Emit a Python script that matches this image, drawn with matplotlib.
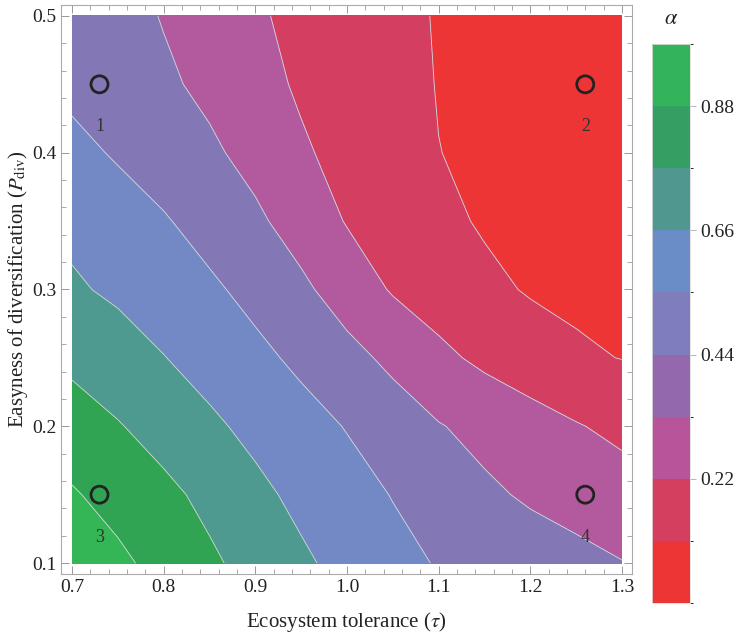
import numpy as np
import matplotlib
matplotlib.use("Agg")
import matplotlib.pyplot as plt
from matplotlib.colors import ListedColormap, BoundaryNorm
from matplotlib.cm import ScalarMappable
from matplotlib.ticker import MultipleLocator, FormatStrFormatter

plt.rcParams['font.family'] = ['Liberation Serif', 'DejaVu Serif']
plt.rcParams['mathtext.fontset'] = 'stix'

# ── Data ─────────────────────────────────────────────────────────
tau = [0.70, 0.75, 0.80, 0.85, 0.90, 0.95, 1.00, 1.05, 1.10, 1.15, 1.20, 1.25, 1.30]
p_div = [0.10, 0.15, 0.20, 0.25, 0.30, 0.35, 0.40, 0.45, 0.50]

# alpha, one row per p_div value (bottom to top)
alpha = [
    [0.846, 0.792, 0.735, 0.678, 0.622, 0.567, 0.518, 0.472, 0.433, 0.408, 0.383, 0.358, 0.333],
    [0.780, 0.733, 0.686, 0.633, 0.575, 0.525, 0.480, 0.436, 0.392, 0.349, 0.316, 0.292, 0.267],
    [0.710, 0.667, 0.618, 0.569, 0.523, 0.479, 0.435, 0.385, 0.336, 0.299, 0.263, 0.227, 0.194],
    [0.636, 0.595, 0.553, 0.510, 0.466, 0.418, 0.363, 0.306, 0.244, 0.198, 0.160, 0.122, 0.108],
    [0.563, 0.533, 0.497, 0.458, 0.409, 0.351, 0.280, 0.211, 0.171, 0.132, 0.102, 0.094, 0.088],
    [0.527, 0.488, 0.449, 0.400, 0.349, 0.284, 0.214, 0.174, 0.133, 0.100, 0.092, 0.085, 0.078],
    [0.469, 0.429, 0.389, 0.348, 0.296, 0.233, 0.189, 0.149, 0.111, 0.098, 0.088, 0.078, 0.068],
    [0.415, 0.381, 0.348, 0.306, 0.254, 0.207, 0.173, 0.138, 0.107, 0.093, 0.079, 0.065, 0.052],
    [0.417, 0.371, 0.324, 0.278, 0.232, 0.196, 0.164, 0.131, 0.105, 0.090, 0.075, 0.060, 0.045],
]

levels = [0.0, 0.11, 0.22, 0.33, 0.44, 0.55, 0.66, 0.77, 1.0]
band_colors = ['#EE3536', '#D43E60', '#B35A9E', '#8477B5',
               '#7389C5', '#4F9A90', '#31A454', '#34B556']

# legend bar
cb_bounds = [0.0, 0.11, 0.22, 0.33, 0.44, 0.55, 0.66, 0.77, 0.88, 0.99]
cb_colors = ['#EE3536', '#D53F5F', '#B8549A', '#9468AC', '#7F7DBB',
             '#6A8DC8', '#50978F', '#359F63', '#33B35A']
cb_ticks = [0.22, 0.44, 0.66, 0.88]

pt_tau = [0.73, 1.26, 0.73, 1.26]
pt_p = [0.45, 0.45, 0.15, 0.15]
pt_labels = ['1', '2', '3', '4']

# ── Plot ─────────────────────────────────────────────────────────
fig = plt.figure(figsize=(7.36, 6.39), dpi=100)
ax = fig.add_axes([0.0829, 0.1017, 0.7758, 0.8905])

T, P = np.meshgrid(tau, p_div)
A = np.array(alpha)
ax.contourf(T, P, A, levels=levels, colors=band_colors)
ax.contour(T, P, A, levels=levels[1:-1], colors='#d9d9d9', linewidths=0.6)

ax.scatter(pt_tau, pt_p, s=150, facecolors='none', edgecolors='#222222',
           linewidths=2, zorder=5)
for x, y, lab in zip(pt_tau, pt_p, pt_labels):
    ax.text(x, y - 0.031, lab, ha='center', va='center', fontsize=13,
            color='#333333', zorder=5)

ax.set_xlim(0.688, 1.311)
ax.set_ylim(0.092, 0.508)
ax.xaxis.set_major_locator(MultipleLocator(0.1))
ax.xaxis.set_minor_locator(MultipleLocator(0.02))
ax.yaxis.set_major_locator(MultipleLocator(0.1))
ax.yaxis.set_minor_locator(MultipleLocator(0.02))
ax.xaxis.set_major_formatter(FormatStrFormatter('%.1f'))
ax.yaxis.set_major_formatter(FormatStrFormatter('%.1f'))
ax.tick_params(which='both', direction='in', top=True, right=True,
               color='#999999', labelsize=14, labelcolor='#222222')
ax.tick_params(which='major', length=6, width=0.7)
ax.tick_params(which='minor', length=3.5, width=0.6)
for s in ax.spines.values():
    s.set_color('#aaaaaa')
    s.set_linewidth(0.8)

ax.set_xlabel(r"Ecosystem tolerance ($\tau$)", fontsize=15, color='#222222',
              labelpad=10)
ax.set_ylabel(r"Easyness of diversification ($P_{\rm div}$)", fontsize=15,
              color='#222222', labelpad=1)

# ── Colour bar ───────────────────────────────────────────────────
cax = fig.add_axes([0.886, 0.0563, 0.0516, 0.875])
sm = ScalarMappable(norm=BoundaryNorm(cb_bounds, len(cb_colors)),
                    cmap=ListedColormap(cb_colors))
cb = fig.colorbar(sm, cax=cax, ticks=cb_ticks)
cb.outline.set_edgecolor('#dddddd')
cb.outline.set_linewidth(0.6)
cax.tick_params(length=4, width=0.6, color='#aaaaaa', labelsize=14,
                labelcolor='#222222')
cax.set_yticklabels([f"{t:.2f}" for t in cb_ticks])
cax.set_title(r"$\alpha$", fontsize=16, pad=14, color='#222222')

fig.savefig("out.png", dpi=100)
